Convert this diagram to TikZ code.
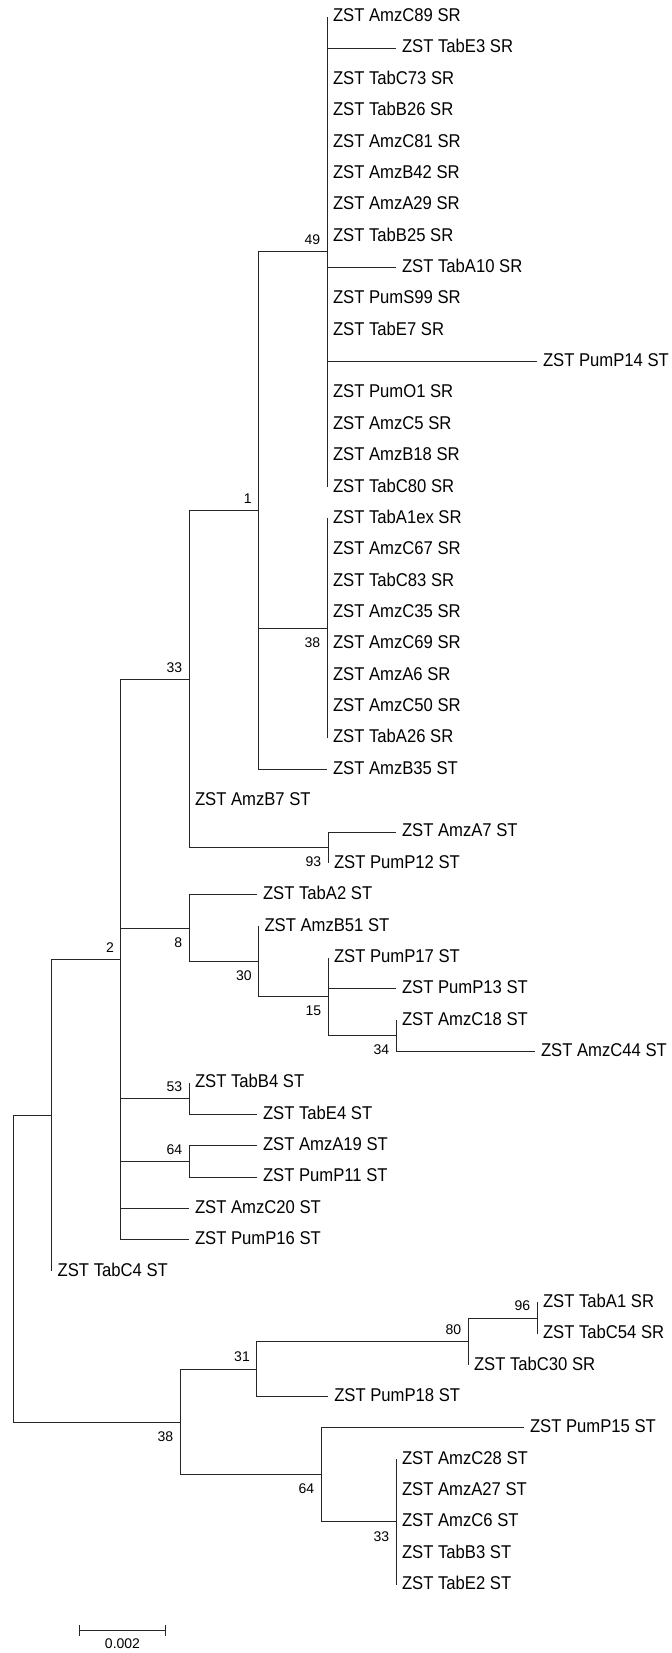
\documentclass[tikz,border=0pt]{standalone}
\usepackage{fontspec}
\usepackage{tikz}
\usetikzlibrary{arrows.meta}
\newfontfamily\leaffont[FakeStretch=0.9]{Liberation Sans}
\newfontfamily\bootfont{Liberation Sans}
\tikzset{
  leaf/.style={anchor=west, inner xsep=5.8pt, inner ysep=0pt, text height=13.5pt, text depth=3.7pt,
    font=\leaffont\fontsize{18.5}{20}\selectfont},
  boot/.style={anchor=east, inner sep=0pt, xshift=-6.7pt, font=\bootfont\fontsize{14}{16}\selectfont},
  bootup/.style={boot, yshift=12pt},
  bootdown/.style={boot, yshift=-14.2pt},
  branch/.style={line width=1pt, black!85}
}
\begin{document}
\begin{tikzpicture}[x=1pt, y=-31.36pt]
\useasboundingbox (0,-0.5325) rectangle (672,52.178);

\node[leaf] (t1) at (327,0) {ZST AmzC89 SR};
\node[leaf] (t2) at (396,1) {ZST TabE3 SR};
\node[leaf] (t3) at (327,2) {ZST TabC73 SR};
\node[leaf] (t4) at (327,3) {ZST TabB26 SR};
\node[leaf] (t5) at (327,4) {ZST AmzC81 SR};
\node[leaf] (t6) at (327,5) {ZST AmzB42 SR};
\node[leaf] (t7) at (327,6) {ZST AmzA29 SR};
\node[leaf] (t8) at (327,7) {ZST TabB25 SR};
\node[leaf] (t9) at (396,8) {ZST TabA10 SR};
\node[leaf] (t10) at (327,9) {ZST PumS99 SR};
\node[leaf] (t11) at (327,10) {ZST TabE7 SR};
\node[leaf] (t12) at (537,11) {ZST PumP14 ST};
\node[leaf] (t13) at (327,12) {ZST PumO1 SR};
\node[leaf] (t14) at (327,13) {ZST AmzC5 SR};
\node[leaf] (t15) at (327,14) {ZST AmzB18 SR};
\node[leaf] (t16) at (327,15) {ZST TabC80 SR};
\node[leaf] (t17) at (327,16) {ZST TabA1ex SR};
\node[leaf] (t18) at (327,17) {ZST AmzC67 SR};
\node[leaf] (t19) at (327,18) {ZST TabC83 SR};
\node[leaf] (t20) at (327,19) {ZST AmzC35 SR};
\node[leaf] (t21) at (327,20) {ZST AmzC69 SR};
\node[leaf] (t22) at (327,21) {ZST AmzA6 SR};
\node[leaf] (t23) at (327,22) {ZST AmzC50 SR};
\node[leaf] (t24) at (327,23) {ZST TabA26 SR};
\node[leaf] (t25) at (327,24) {ZST AmzB35 ST};
\node[leaf] (t26) at (189,25) {ZST AmzB7 ST};
\node[leaf] (t27) at (396,26) {ZST AmzA7 ST};
\node[leaf] (t28) at (328,27) {ZST PumP12 ST};
\node[leaf] (t29) at (257,28) {ZST TabA2 ST};
\node[leaf] (t30) at (258.5,29) {ZST AmzB51 ST};
\node[leaf] (t31) at (328,30) {ZST PumP17 ST};
\node[leaf] (t32) at (396,31) {ZST PumP13 ST};
\node[leaf] (t33) at (396,32) {ZST AmzC18 ST};
\node[leaf] (t34) at (535,33) {ZST AmzC44 ST};
\node[leaf] (t35) at (189,34) {ZST TabB4 ST};
\node[leaf] (t36) at (257,35) {ZST TabE4 ST};
\node[leaf] (t37) at (257,36) {ZST AmzA19 ST};
\node[leaf] (t38) at (257,37) {ZST PumP11 ST};
\node[leaf] (t39) at (189,38) {ZST AmzC20 ST};
\node[leaf] (t40) at (189,39) {ZST PumP16 ST};
\node[leaf] (t41) at (51.7,40) {ZST TabC4 ST};
\node[leaf] (t42) at (537,41) {ZST TabA1 SR};
\node[leaf] (t43) at (537,42) {ZST TabC54 SR};
\node[leaf] (t44) at (468,43) {ZST TabC30 SR};
\node[leaf] (t45) at (328.3,44) {ZST PumP18 ST};
\node[leaf] (t46) at (524,45) {ZST PumP15 ST};
\node[leaf] (t47) at (396,46) {ZST AmzC28 ST};
\node[leaf] (t48) at (396,47) {ZST AmzA27 ST};
\node[leaf] (t49) at (396,48) {ZST AmzC6 ST};
\node[leaf] (t50) at (396,49) {ZST TabB3 ST};
\node[leaf] (t51) at (396,50) {ZST TabE2 ST};

\coordinate (b49) at (327,7.5);
\coordinate (b38) at (327,19.5);
\coordinate (b1) at (258.5,15.75);
\coordinate (b93) at (328,26.5);
\coordinate (b33) at (189,21.125);
\coordinate (b34) at (396,32.5);
\coordinate (b15) at (328,31.25);
\coordinate (b30) at (258.5,30.125);
\coordinate (b8) at (189,29.0625);
\coordinate (b53) at (189,34.5);
\coordinate (b64) at (189,36.5);
\coordinate (b2) at (120.7,30.0625);
\coordinate (a) at (51.7,35.03125);
\coordinate (b96) at (537,41.5);
\coordinate (b80) at (468,42.25);
\coordinate (b31) at (256.7,43.125);
\coordinate (b33s) at (396,48);
\coordinate (b64s) at (321,46.5);
\coordinate (b38s) at (180,44.8125);
\coordinate (r) at (13.3,39.921875);

\draw[branch] (b49) |- (t1.west) (b49) |- (t2.west) (b49) |- (t3.west) (b49) |- (t4.west)
  (b49) |- (t5.west) (b49) |- (t6.west) (b49) |- (t7.west) (b49) |- (t8.west)
  (b49) |- (t9.west) (b49) |- (t10.west) (b49) |- (t11.west) (b49) |- (t12.west)
  (b49) |- (t13.west) (b49) |- (t14.west) (b49) |- (t15.west) (b49) |- (t16.west);
\draw[branch] (b38) |- (t17.west) (b38) |- (t18.west) (b38) |- (t19.west) (b38) |- (t20.west)
  (b38) |- (t21.west) (b38) |- (t22.west) (b38) |- (t23.west) (b38) |- (t24.west);
\draw[branch] (b1) |- (b49) (b1) |- (b38) (b1) |- (t25.west);
\draw[branch] (b93) |- (t27.west) (b93) |- (t28.west);
\draw[branch] (b33) |- (b1) (b33) |- (t26.west) (b33) |- (b93);
\draw[branch] (b34) |- (t33.west) (b34) |- (t34.west);
\draw[branch] (b15) |- (t31.west) (b15) |- (t32.west) (b15) |- (b34);
\draw[branch] (b30) |- (t30.west) (b30) |- (b15);
\draw[branch] (b8) |- (t29.west) (b8) |- (b30);
\draw[branch] (b53) |- (t35.west) (b53) |- (t36.west);
\draw[branch] (b64) |- (t37.west) (b64) |- (t38.west);
\draw[branch] (b2) |- (b33) (b2) |- (b8) (b2) |- (b53) (b2) |- (b64)
  (b2) |- (t39.west) (b2) |- (t40.west);
\draw[branch] (a) |- (b2) (a) |- (t41.west);
\draw[branch] (b96) |- (t42.west) (b96) |- (t43.west);
\draw[branch] (b80) |- (b96) (b80) |- (t44.west);
\draw[branch] (b31) |- (b80) (b31) |- (t45.west);
\draw[branch] (b33s) |- (t47.west) (b33s) |- (t48.west) (b33s) |- (t49.west)
  (b33s) |- (t50.west) (b33s) |- (t51.west);
\draw[branch] (b64s) |- (t46.west) (b64s) |- (b33s);
\draw[branch] (b38s) |- (b31) (b38s) |- (b64s);
\draw[branch] (r) |- (a) (r) |- (b38s);

\node[bootup] (s49) at (b49) {49};
\node[bootup] (s1) at (b1) {1};
\node[bootdown] (s38) at (b38) {38};
\node[bootup] (s33) at (b33) {33};
\node[bootdown] (s93) at (b93) {93};
\node[bootup] (s2) at (b2) {2};
\node[bootdown] (s8) at (b8) {8};
\node[bootdown] (s30) at (b30) {30};
\node[bootdown] (s15) at (b15) {15};
\node[bootdown] (s34) at (b34) {34};
\node[bootup] (s53) at (b53) {53};
\node[bootup] (s64) at (b64) {64};
\node[bootdown] (s38s) at (b38s) {38};
\node[bootup] (s31) at (b31) {31};
\node[bootup] (s80) at (b80) {80};
\node[bootup] (s96) at (b96) {96};
\node[bootdown] (s64s) at (b64s) {64};
\node[bootdown] (s33s) at (b33s) {33};

\coordinate (sbl) at (79,51.445);
\coordinate (sbr) at (166,51.445);
\draw[branch, {Bar[width=11pt]}-{Bar[width=11pt]}] (sbl) -- (sbr);
\node[anchor=north, inner sep=0pt, yshift=-8.3pt, font=\bootfont\fontsize{14}{16}\selectfont] (sbt) at (122.5,51.445) {0.002};

\end{tikzpicture}
\end{document}
